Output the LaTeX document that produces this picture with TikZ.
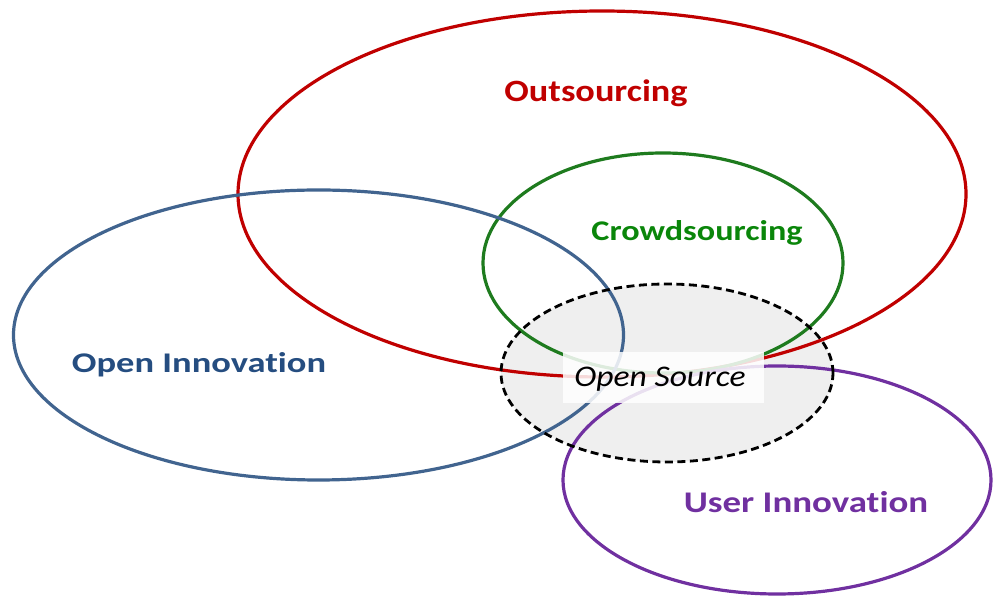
\documentclass[tikz,border=0pt]{standalone}
\usepackage{graphicx}
\usepackage{fontspec}
\setmainfont{Carlito}[Ligatures={NoCommon}]
\definecolor{redc}{HTML}{C00000}
\definecolor{greenl}{HTML}{1E7B1E}
\definecolor{greent}{HTML}{0A860A}
\definecolor{bluel}{HTML}{41648F}
\definecolor{bluet}{HTML}{254D80}
\definecolor{purplec}{HTML}{7030A0}
\definecolor{grayfill}{HTML}{EFEFEF}
\newcommand{\widetxt}[2]{\scalebox{#1}[1]{#2}}
\begin{document}
\begin{tikzpicture}[x=1pt,y=1pt,
  ring/.style={line width=3.2pt},
  lbl/.style={anchor=base,inner sep=0pt},
]
\useasboundingbox (0,0) rectangle (994,597);
% gray fill of open source region
\fill[grayfill] (667,224) ellipse [x radius=166, y radius=89];
% rings
\draw[ring,redc] (602,403) ellipse [x radius=364, y radius=183];
\draw[ring,greenl] (663,334) ellipse [x radius=180, y radius=110];
\draw[ring,bluel] (318.5,262) ellipse [x radius=305, y radius=145];
\draw[ring,purplec] (777,117) ellipse [x radius=214, y radius=114];
\draw[line width=2.8pt,dash pattern=on 8pt off 4.5pt] (667,224) ellipse [x radius=166, y radius=89];
% open source label box
\node (osbox) [fill=white,fill opacity=0.85,minimum width=201pt,minimum height=51pt,inner sep=0pt] at (663.5,219.5) {};
\node (os) [lbl,font=\fontsize{30}{34}\selectfont\itshape] at (660,210) {\widetxt{1.12}{Open Source}};
% labels
\node (out) [lbl,text=redc,font=\fontsize{31}{35}\selectfont\bfseries] at (596,495) {\widetxt{1.17}{Outsourcing}};
\node (crowd) [lbl,text=greent,font=\fontsize{28.5}{32}\selectfont\bfseries] at (697,356) {\widetxt{1.2}{Crowdsourcing}};
\node (oi) [lbl,text=bluet,font=\fontsize{28.5}{32}\selectfont\bfseries] at (199,224) {\widetxt{1.28}{Open Innovation}};
\node (ui) [lbl,text=purplec,font=\fontsize{30}{34}\selectfont\bfseries] at (806,84) {\widetxt{1.23}{User Innovation}};
\end{tikzpicture}
\end{document}
